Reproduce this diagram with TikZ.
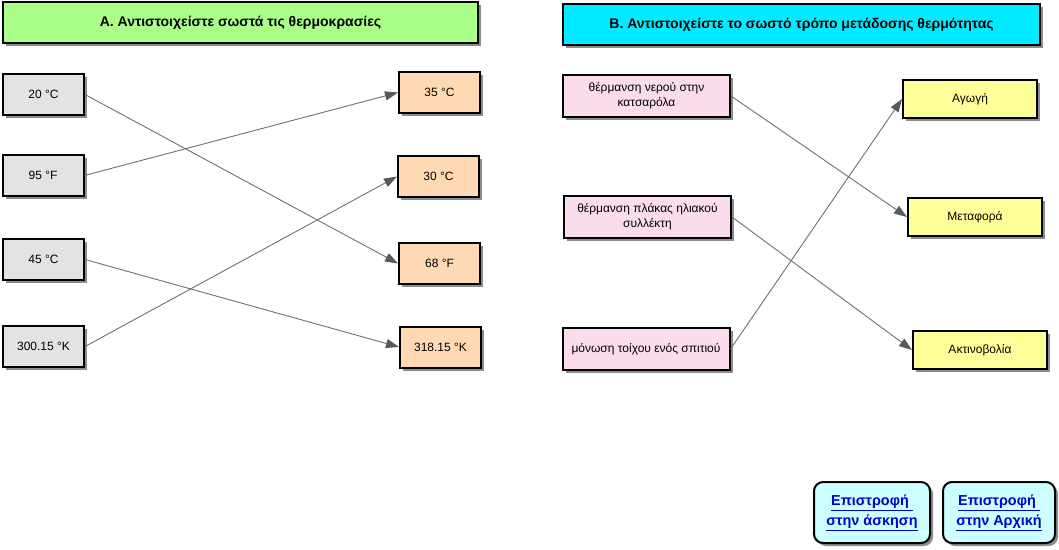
\documentclass[tikz,border=0pt]{standalone}
\usepackage{fontspec}
\setmainfont{Liberation Sans}
\usetikzlibrary{shadows,arrows.meta}
\definecolor{grayfill}{HTML}{E5E3E1}
\definecolor{orangefill}{HTML}{FED9B3}
\definecolor{greenfill}{HTML}{AAFF88}
\definecolor{cyanfill}{HTML}{00EBFF}
\definecolor{pinkfill}{HTML}{FADCEC}
\definecolor{yellowfill}{HTML}{FFFF99}
\definecolor{btnfill}{HTML}{CCFFFF}
\definecolor{linkblue}{HTML}{0000CC}
\definecolor{linegray}{HTML}{707070}
\definecolor{shadowgray}{HTML}{8C8C8C}
\tikzset{
  x=1pt, y=-1pt,
  box/.style={draw=black, line width=2pt, inner sep=2pt, align=center,
    font=\fontsize{12}{15}\selectfont,
    drop shadow={shadow xshift=3pt, shadow yshift=-3pt, fill=shadowgray, opacity=1}},
  titlebox/.style={box, font=\bfseries\fontsize{14}{16}\selectfont},
  leftbox/.style={box, fill=grayfill, minimum width=81pt, minimum height=41pt},
  rightbox/.style={box, fill=orangefill, minimum width=81pt, minimum height=41pt},
  pinkbox/.style={box, fill=pinkfill, minimum width=167pt, minimum height=42pt},
  yellowbox/.style={box, fill=yellowfill, minimum width=134pt, minimum height=38pt},
  btn/.style={box, fill=btnfill, rounded corners=9pt, minimum height=61pt,
    text=linkblue, font=\bfseries\fontsize{14.4}{20}\selectfont},
  link/.style={draw=linegray, line width=0.9pt,
    -{Triangle[length=13pt,width=9pt,fill=black!65,color=black!65]}}
}
\begin{document}
\begin{tikzpicture}
\useasboundingbox (0,0) rectangle (1059,549);
\fill[white] (0,0) rectangle (1059,549);
% titles
\node[titlebox, fill=greenfill, minimum width=475pt, minimum height=41pt] (ta) at (240.5,22.5) {Α. Αντιστοιχείστε σωστά τις θερμοκρασίες};
\node[titlebox, fill=cyanfill, minimum width=477pt, minimum height=41pt] (tb) at (801.5,24.5) {Β. Αντιστοιχείστε το σωστό τρόπο μετάδοσης θερμότητας};
% left column A
\node[leftbox] (l1) at (43.5,94.5) {20 °C};
\node[leftbox] (l2) at (43,175.5) {95 °F};
\node[leftbox] (l3) at (43.5,259.5) {45 °C};
\node[leftbox] (l4) at (43.5,346.5) {300.15 °K};
% right column A
\node[rightbox] (r1) at (439.5,92.5) {35 °C};
\node[rightbox] (r2) at (438.5,176.5) {30 °C};
\node[rightbox] (r3) at (439.5,263.5) {68 °F};
\node[rightbox] (r4) at (440.5,347) {318.15 °K};
% left column B
\node[pinkbox] (p1) at (646.5,96) {θέρμανση νερού στην\\κατσαρόλα};
\node[pinkbox] (p2) at (647.5,217) {θέρμανση πλάκας ηλιακού\\συλλέκτη};
\node[pinkbox] (p3) at (646,349) {μόνωση τοίχου ενός σπιτιού};
% right column B
\node[yellowbox] (y1) at (970,99) {Αγωγή};
\node[yellowbox] (y2) at (975,217) {Μεταφορά};
\node[yellowbox] (y3) at (980,350) {Ακτινοβολία};
% buttons
\node[btn, minimum width=116pt] (b1) at (872,512.5) {\underline{Επιστροφή\ }\\\underline{στην άσκηση}};
\node[btn, minimum width=112pt] (b2) at (999,512.5) {\underline{Επιστροφή\ }\\\underline{στην Αρχική}};
% connectors
\draw[link] (l1.east) -- (r3.west);
\draw[link] (l2.east) -- (r1.west);
\draw[link] (l3.east) -- (r4.west);
\draw[link] (l4.east) -- (r2.west);
\draw[link] (p1.east) -- (y2.west);
\draw[link] (p2.east) -- (y3.west);
\draw[link] (p3.east) -- (y1.west);
\end{tikzpicture}
\end{document}
